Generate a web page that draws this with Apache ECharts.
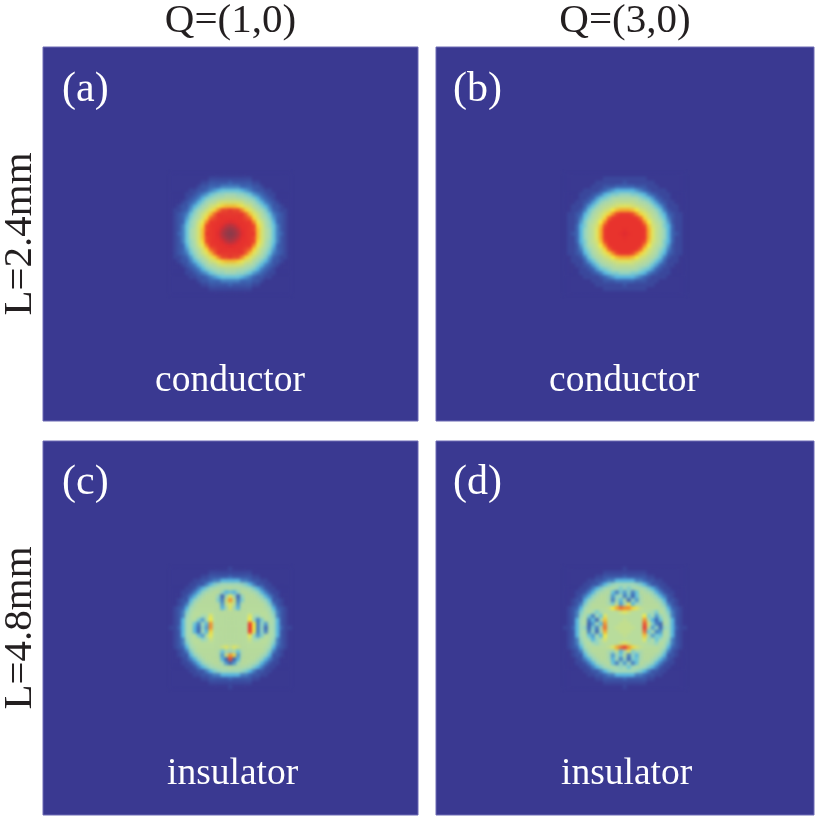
<!DOCTYPE html>
<html>
<head>
<meta charset="utf-8">
<style>html,body{margin:0;padding:0;background:#fff}#chart{width:815px;height:819px}</style>
<script src="https://cdn.jsdelivr.net/npm/echarts@6/dist/echarts.min.js"></script>
</head>
<body>
<div id="chart"></div>
<script>
// Intensity maps around the Brillouin-zone centre, one base-36 digit per cell (0 = background, z = peak).
const panelA = [
"0000000000000000000000000000000",
"0000000000111111111110000000000",
"0000000011222223222221100000000",
"0000000122333444443332210000000",
"0000011223456777776543221100000",
"00001123457899aaa99875432110000",
"00001234689abcdddcba98643210000",
"000123468acdfgggggfdca864321000",
"00122468acfgiklllkigfca86422100",
"0112358acfhknppqppnkhfca8532110",
"0123479cfhloqqqqqqqolhfc9743210",
"012358adgkopqrrrrrqpokgda853210",
"012369bfinqqrrstsrrqqnifb963210",
"012479cgkpqrrtvwvtrrqpkgc974210",
"01247adglpqrsvxyxvsrqplgda74210",
"01347adglqqrtwyzywtrqqlgda74310",
"01247adglpqrsvxyxvsrqplgda74210",
"012479cgkpqrrtvwvtrrqpkgc974210",
"012369bfinqqrrstsrrqqnifb963210",
"012358adgkopqrrrrrqpokgda853210",
"0123479cfhloqqqqqqqolhfc9743210",
"0112358acfhknppqppnkhfca8532110",
"00122468acfgiklllkigfca86422100",
"000123468acdfgggggfdca864321000",
"00001234689abcdddcba98643210000",
"00001123457899aaa99875432110000",
"0000011223456777776543221100000",
"0000000122333444443332210000000",
"0000000011222223222221100000000",
"0000000000111111111110000000000",
"0000000000000000000000000000000"
];
const panelB = [
"0000000000000000000000000000000",
"0000000000111111111110000000000",
"0000000011111112111111100000000",
"0000000111222333332221110000000",
"0000011112345666665432111100000",
"0000111234678899988764321110000",
"000011235789bcccccb987532110000",
"0001123579bcdeeeeedcb9753211000",
"001113579cdefghhhgfedc975311100",
"00112479cdfgjlmmmljgfdc97421100",
"0112368bdfhknpqqqpnkhfdb8632110",
"0112479cegkoqrrrrrqokgec9742110",
"011258bdfjnqrrrrrrrqnjfdb852110",
"011368ceglprrrrrrrrrplgec863110",
"011369cehmqrrrrsrrrrqmhec963110",
"012369cehmqrrrstsrrrqmhec963210",
"011369cehmqrrrrsrrrrqmhec963110",
"011368ceglprrrrrrrrrplgec863110",
"011258bdfjnqrrrrrrrqnjfdb852110",
"0112479cegkoqrrrrrqokgec9742110",
"0112368bdfhknpqqqpnkhfdb8632110",
"00112479cdfgjlmmmljgfdc97421100",
"001113579cdefghhhgfedc975311100",
"0001123579bcdeeeeedcb9753211000",
"000011235789bcccccb987532110000",
"0000111234678899988764321110000",
"0000011112345666665432111100000",
"0000000111222333332221110000000",
"0000000011111112111111100000000",
"0000000000111111111110000000000",
"0000000000000000000000000000000"
];
const panelC = [
"0000000000000001000000000000000",
"0000000000111111111110000000000",
"0000000011222223222221100000000",
"0000001122344666664432211000000",
"0000011224689aaaaa9864221100000",
"0000112468abcccdcccba8642110000",
"000112469bcdd96769ddcb964211000",
"00012469bddd93aia39dddb96421000",
"0012269bdddd84fnf48ddddb9622100",
"001248bdddddc5ehe5cdddddb842100",
"01236acdddddd6aha6ddddddca63210",
"01248bdddddddddddddddddddb84210",
"01249cddabhdddddddddhbaddc94210",
"0126acd85bjdddddddddj948dca6210",
"0126ac74a6ndddddddddqj495ca6210",
"1136ac6395ndddddddddrj493ba6311",
"0126ac63a6kdddddddddqi494ca6210",
"0126acd75cidddddddddi958dca6210",
"01249cdd9afdddddddddfaaddc94210",
"01248bdddddddddddddddddddb84210",
"01236acddddddfhehfddddddca63210",
"001248bdddddc7a9a7cdddddb842100",
"0012269bddddc5fnk5cddddb9622100",
"00012469bdddd63p36ddddb96421000",
"000112469bcdda535addcb964211000",
"0000112468abcccdcccba8642110000",
"0000011224689aaaaa9864221100000",
"0000001122344666664432211000000",
"0000000011222223222221100000000",
"0000000000111111111110000000000",
"0000000000000001000000000000000"
];
const panelD = [
"0000000000000001000000000000000",
"0000000000111111111110000000000",
"0000000011222223222221100000000",
"0000001122344666664432211000000",
"0000011224689aaaaa9864221100000",
"0000112468abca8a8acba8642110000",
"000112469bcd7485947dcb964211000",
"00012469bddb59a4837bddb96421000",
"0012269bdddb4a6c395bdddb9622100",
"001248bddddb8e5ai6abddddb842100",
"01236acddddejmonnkheddddca63210",
"01248bda8bddddfhfddddca8db84210",
"01249c84a7hdddddddddj8a59c94210",
"0126ac473blddddeddddnb637ca6210",
"0126ac35a6ndddeeedddpg843ca6210",
"1136a9384coddeeeeeddre5939a6311",
"0126ac493amdddeeedddo7b45ca6210",
"0126ac75b6jddddeddddlb587ca6210",
"01249ca69cgdddddddddh9c7ac94210",
"01248bda9cddddfhfddddcb9db84210",
"01236acddddehmoqnkgeddddca63210",
"001248bddddb9e6bh8abddddb842100",
"0012269bdddb5a7d496bdddb9622100",
"00012469bddb6a49387bddb96421000",
"000112469bcd7495a47dcb964211000",
"0000112468abca9a7acba8642110000",
"0000011224689aaaaa9864221100000",
"0000001122344666664432211000000",
"0000000011222223222221100000000",
"0000000000111111111110000000000",
"0000000000000001000000000000000"
];
const columnTitles = ["Q=(1,0)", "Q=(3,0)"];
const rowTitles = ["L=2.4mm", "L=4.8mm"];
const panelTags = ["(a)", "(b)", "(c)", "(d)"];
const panelNotes = ["conductor", "conductor", "insulator", "insulator"];
const colormap = ["#3a3991","#3d68b4","#5cc0e4","#a2d9b8","#b5dca0","#d5e172","#f7ea3e","#f6a528","#ea3a2d","#e52c2e","#b5363f","#8a3c4a"];

const SERIF = "Liberation Serif";
const CELLS = 95;
const panels = [panelA, panelB, panelC, panelD];
const frames = [
  {left: 43,  top: 47,  width: 375, height: 374},
  {left: 436, top: 47,  width: 378, height: 374},
  {left: 43,  top: 441, width: 375, height: 374},
  {left: 436, top: 441, width: 378, height: 374}
];
const tagSpots = [[62, 69], [453, 69], [62, 462], [453, 462]];
const noteSpots = [[155, 362], [549, 362], [167, 755], [561, 755]];
const cats = Array.from({length: CELLS}, (_, i) => i);

// Turn a digit matrix into heatmap triples, centred in the panel's category grid.
function cellsOf(rows) {
  const shift = (CELLS - rows.length) / 2;
  const out = [];
  rows.forEach((row, r) => {
    [...row].forEach((ch, c) => {
      out.push([c + shift, r + shift, parseInt(ch, 36)]);
    });
  });
  return out;
}

const axisBase = {
  type: "category", data: cats,
  axisLine: {show: false}, axisTick: {show: false}, axisLabel: {show: false}, splitLine: {show: false},
  nameLocation: "middle",
  nameTextStyle: {fontFamily: SERIF, fontSize: 41, color: "#231f20"}
};

const option = {
  animation: false,
  backgroundColor: "#ffffff",
  grid: frames.map(f => ({
    ...f, show: true, outerBoundsMode: "none", containLabel: false,
    backgroundColor: colormap[0], borderColor: "#6d6bb4", borderWidth: 1
  })),
  xAxis: frames.map((f, i) => ({
    ...axisBase, gridIndex: i, position: "top",
    name: i < 2 ? columnTitles[i] : "", nameGap: 5
  })),
  yAxis: frames.map((f, i) => ({
    ...axisBase, gridIndex: i, inverse: true, position: "left",
    name: i % 2 === 0 ? rowTitles[i / 2] : "", nameGap: 2
  })),
  visualMap: {show: false, min: 0, max: 35, seriesIndex: [0, 1, 2, 3], inRange: {color: colormap}},
  title: [
    ...panelTags.map((t, i) => ({
      text: t, left: tagSpots[i][0], top: tagSpots[i][1], padding: 0,
      textStyle: {fontFamily: SERIF, fontWeight: "normal", fontSize: 42, color: "#ffffff"}
    })),
    ...panelNotes.map((t, i) => ({
      text: t, left: noteSpots[i][0], top: noteSpots[i][1], padding: 0,
      textStyle: {fontFamily: SERIF, fontWeight: "normal", fontSize: 37.5, color: "#ffffff"}
    }))
  ],
  series: panels.map((rows, i) => ({
    type: "heatmap", xAxisIndex: i, yAxisIndex: i, data: cellsOf(rows),
    zlevel: 1, progressive: 0, silent: true, itemStyle: {borderWidth: 0}
  }))
};

const chart = echarts.init(document.getElementById("chart"), null, {renderer: "canvas", width: 815, height: 819});
chart.setOption(option);

// The maps are smooth fields, so only the heatmap layer gets a slight softening.
const layers = document.querySelectorAll("#chart canvas");
if (layers.length > 1) layers[1].style.filter = "blur(1.7px)";
</script>
</body>
</html>
